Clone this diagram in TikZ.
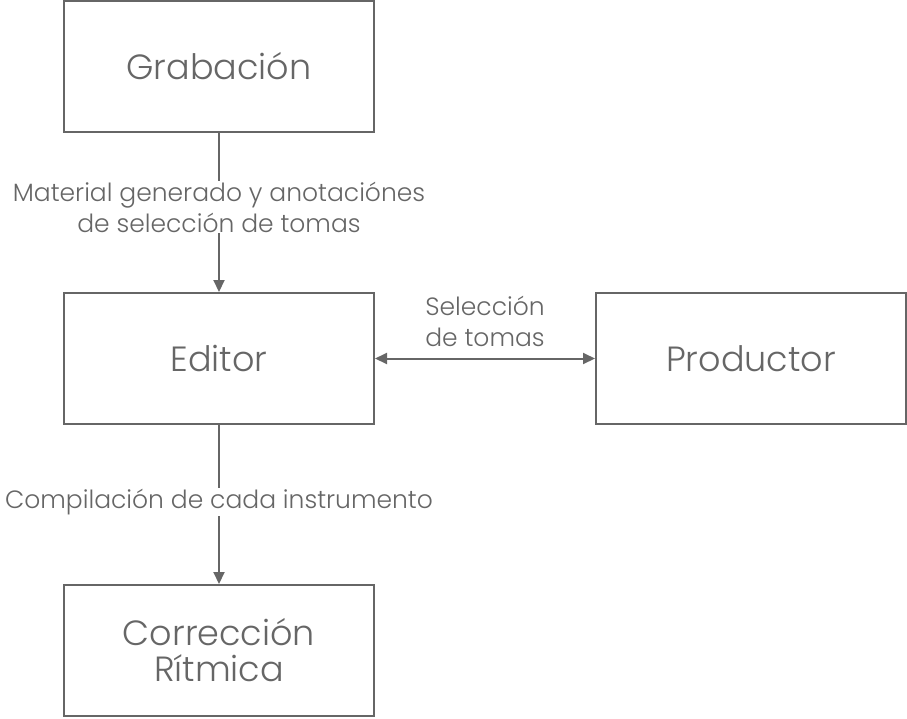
\documentclass[tikz,border=0pt]{standalone}
\usepackage{fontspec}
\setmainfont{Poppins Light}
\usetikzlibrary{arrows.meta}
\definecolor{gr}{HTML}{666666}
\begin{document}
\begin{tikzpicture}[x=1pt,y=-1pt,
  box/.style={draw=gr,line width=2pt,minimum width=310pt,minimum height=131pt,text=gr,font=\fontsize{35}{36}\selectfont,align=center,inner sep=0pt},
  lbl/.style={text=gr,font=\fontsize{25}{31}\selectfont,align=center,fill=white,inner sep=1pt},
  conn/.style={draw=gr,line width=2pt,-{Triangle[length=12pt,width=11pt]}}]
\useasboundingbox (0,0) rectangle (907,718);
\node[box] (grab) at (219,66.5) {Grabación};
\node[box] (edit) at (219,358.5) {Editor};
\node[box] (prod) at (751,358.5) {Productor};
\node[box] (corr) at (219,650.5) {Corrección\\Rítmica};
\draw[conn] (grab) -- node[lbl,pos=0.466] {Material generado y anotaciónes\\de selección de tomas} (edit);
\draw[conn] (edit) -- node[lbl,pos=0.485] {Compilación de cada instrumento} (corr);
\draw[conn,{Triangle[length=12pt,width=11pt]}-{Triangle[length=12pt,width=11pt]}] (edit) -- node[lbl,fill=none,midway,yshift=37.5pt] {Selección\\de tomas} (prod);
\end{tikzpicture}
\end{document}
